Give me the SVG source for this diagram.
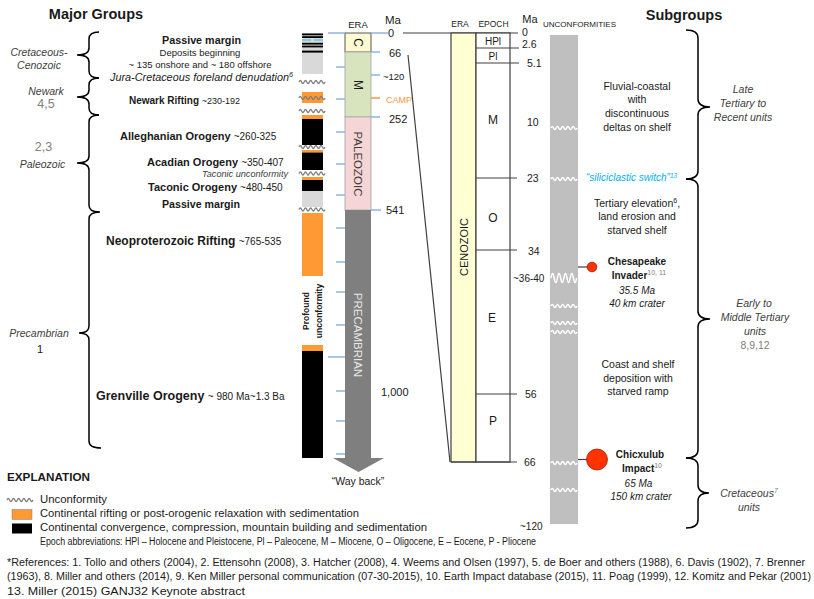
<svg xmlns="http://www.w3.org/2000/svg" width="814" height="599" viewBox="0 0 814 599">
<style>
text{font-family:"Liberation Sans",Arial,sans-serif;fill:#1a1a1a}
.b{font-weight:bold}
.i{font-style:italic}
.gy{fill:#808080}
.dk{fill:#404040}
.brace{fill:none;stroke:#000;stroke-width:1.5}
.tick{stroke:#8eb4e3;stroke-width:1.5}
.ln{stroke:#404040;stroke-width:1.2;fill:none}
.wg{fill:none;stroke:#7f7f7f;stroke-width:1.3}
.ww{fill:none;stroke:#fff;stroke-width:1.5}
.or{fill:#ff9933}
.bk{fill:#000}
.lg{fill:#d9d9d9}
.mid{text-anchor:middle}
.sup{font-size:7px}
</style>
<defs>
<path id="w" d="M0,0 q1.3,-3 2.6,0 t2.6,0 t2.6,0 t2.6,0 t2.6,0 t2.6,0 t2.6,0 t2.6,0 t2.6,0 t2.6,0"/>
<path id="wb" d="M0,0 q1.6,-9 3.2,0 t3.2,0 t3.2,0 t3.2,0 t3.2,0 t3.2,0 t3.2,0 t3.2,0"/>
</defs>
<rect width="814" height="599" fill="#fff"/>

<g id="titles">
<text x="96" y="19" class="b mid" font-size="14.5">Major Groups</text>
<text x="684" y="20" class="b mid" font-size="14.5">Subgroups</text>
</g>

<g id="left-braces">
<path class="brace" d="M99,32 Q89,32 89,39 L89,48 Q89,55 77,55 Q89,55 89,62 L89,71 Q89,78 99,78"/>
<path class="brace" d="M99,78 Q89,78 89,85 L89,90 Q89,97 77,97 Q89,97 89,104 L89,108 Q89,115 99,115"/>
<path class="brace" d="M99,115 Q89,115 89,122 L89,156 Q89,163 77,163 Q89,163 89,170 L89,205 Q89,212 99,212"/>
<path class="brace" d="M100,212 Q89,212 89,219 L89,326 Q89,333 79,333 Q89,333 89,340 L89,441 Q89,448 101,448"/>
</g>

<g id="group-labels" font-size="10.5">
<text x="39" y="55.5" class="i dk mid">Cretaceous-</text>
<text x="39" y="69" class="i dk mid">Cenozoic</text>
<text x="46" y="95" class="i dk mid">Newark</text>
<text x="46" y="108" class="gy mid" font-size="12.5">4,5</text>
<text x="43.5" y="151" class="gy mid" font-size="12.5">2,3</text>
<text x="42.5" y="168" class="i dk mid">Paleozoic</text>
<text x="39" y="337" class="i dk mid">Precambrian</text>
<text x="40" y="353" class="mid" font-size="11">1</text>
</g>

<g id="event-labels">
<text x="162" y="44" class="b" font-size="11" textLength="79" lengthAdjust="spacingAndGlyphs">Passive margin</text>
<text x="200" y="56" class="mid" font-size="9.5">Deposits beginning</text>
<text x="200" y="68" class="mid" font-size="9.5">~ 135 onshore and ~ 180 offshore</text>
<text x="110" y="81" class="i" font-size="10.5" textLength="183" lengthAdjust="spacingAndGlyphs">Jura-Cretaceous foreland denudation<tspan dy="-4" class="sup">6</tspan></text>
<text x="129" y="104"><tspan class="b" font-size="10">Newark Rifting </tspan><tspan font-size="9">~230-192</tspan></text>
<text x="120" y="140"><tspan class="b" font-size="11">Alleghanian Orogeny </tspan><tspan font-size="10">~260-325</tspan></text>
<text x="147" y="166"><tspan class="b" font-size="11">Acadian Orogeny </tspan><tspan font-size="10">~350-407</tspan></text>
<text x="202" y="177" class="i dk" font-size="9" textLength="86" lengthAdjust="spacingAndGlyphs">Taconic unconformity</text>
<text x="148" y="191"><tspan class="b" font-size="11">Taconic Orogeny </tspan><tspan font-size="10">~480-450</tspan></text>
<text x="162" y="208" class="b" font-size="11" textLength="78" lengthAdjust="spacingAndGlyphs">Passive margin</text>
<text x="106" y="245"><tspan class="b" font-size="12">Neoproterozoic Rifting </tspan><tspan font-size="10">~765-535</tspan></text>
<text x="96" y="400"><tspan class="b" font-size="12.5">Grenville Orogeny </tspan><tspan font-size="10"> ~ 980 Ma~1.3 Ba</tspan></text>
</g>

<g id="left-strip">
<rect x="302" y="33" width="21" height="41" class="lg"/>
<rect x="302" y="33.5" width="21" height="1.8" class="bk"/>
<rect x="302" y="36.2" width="21" height="1.8" class="bk"/>
<line x1="302" y1="40" x2="311" y2="40" stroke="#4fc1e9" stroke-width="1.2"/>
<line x1="314" y1="40" x2="323" y2="40" stroke="#4fc1e9" stroke-width="1.2"/>
<rect x="302" y="42.8" width="21" height="1.8" class="bk"/>
<rect x="302" y="45.6" width="21" height="1.8" class="bk"/>
<rect x="302" y="50.6" width="21" height="2" class="bk"/>
<use href="#w" x="299" y="82" class="wg"/>
<rect x="302" y="92" width="21" height="11" class="or"/>
<use href="#w" x="299" y="98" class="wg"/>
<use href="#w" x="299" y="111" class="wg"/>
<rect x="302" y="115" width="21" height="4" class="or"/>
<rect x="302" y="119" width="21" height="26" class="bk"/>
<use href="#w" x="299" y="147" class="wg"/>
<rect x="302" y="150" width="21" height="2.5" class="or"/>
<rect x="302" y="152.5" width="21" height="17.5" class="bk"/>
<use href="#w" x="299" y="173.5" class="wg"/>
<rect x="302" y="177" width="21" height="3" class="or"/>
<rect x="302" y="180" width="21" height="11" class="bk"/>
<rect x="302" y="191" width="21" height="16" class="lg"/>
<use href="#w" x="299" y="209.5" class="wg"/>
<rect x="302" y="213" width="21" height="63" class="or"/>
<g transform="translate(309,311) rotate(-90)" class="b" font-size="8.5">
<text x="0" y="0" class="mid b">Profound</text>
<text x="0" y="12.5" class="mid b">unconformity</text>
</g>
<rect x="302" y="345" width="21" height="6" class="or"/>
<rect x="302" y="351" width="21" height="107" class="bk"/>
</g>

<g id="time-column">
<text x="358" y="28" class="mid" font-size="9.5">ERA</text>
<text x="393" y="24" class="mid" font-size="11.5">Ma</text>
<rect x="345" y="33" width="26" height="19" fill="#fdf9d3" stroke="#595959"/>
<rect x="345" y="52" width="26" height="65" fill="#d7e4bd" stroke="#b0b0b0"/>
<rect x="345" y="117" width="26" height="93" fill="#f5d5d5" stroke="#b0b0b0"/>
<polygon points="345,210 371,210 371,458 384,458 358.5,472 333,458 345,458" fill="#7f7f7f"/>
<text transform="translate(358,42.5) rotate(90)" class="mid" dominant-baseline="central" font-size="12">C</text>
<text transform="translate(358,85) rotate(90)" class="mid" dominant-baseline="central" font-size="12">M</text>
<text transform="translate(358,164) rotate(90)" class="mid dk" dominant-baseline="central" font-size="11.5">PALEOZOIC</text>
<text transform="translate(358,335) rotate(90)" class="mid" dominant-baseline="central" font-size="11.5" style="fill:#e6e6e6">PRECAMBRIAN</text>
<g class="tick">
<line x1="328" y1="33" x2="345" y2="33"/>
<line x1="336" y1="67" x2="345" y2="67"/>
<line x1="336" y1="99" x2="345" y2="99"/>
<line x1="336" y1="132" x2="345" y2="132"/>
<line x1="336" y1="164" x2="345" y2="164"/>
<line x1="336" y1="195" x2="345" y2="195"/>
<line x1="336" y1="228" x2="345" y2="228"/>
<line x1="336" y1="262" x2="345" y2="262"/>
<line x1="336" y1="292" x2="345" y2="292"/>
<line x1="336" y1="325" x2="345" y2="325"/>
<line x1="328" y1="357" x2="345" y2="357"/>
<line x1="336" y1="391" x2="345" y2="391"/>
<line x1="336" y1="421" x2="345" y2="421"/>
<line x1="336" y1="454" x2="345" y2="454"/>
<line x1="371" y1="33" x2="388" y2="33"/>
<line x1="371" y1="52" x2="380" y2="52"/>
<line x1="371" y1="75" x2="380" y2="75"/>
<line x1="371" y1="117" x2="380" y2="117"/>
<line x1="371" y1="210" x2="381" y2="210"/>
</g>
<line x1="371" y1="98" x2="380" y2="98" stroke="#f79646" stroke-width="1.5"/>
<text x="388" y="37" font-size="11">0</text>
<text x="389" y="56.5" font-size="11">66</text>
<text x="383" y="80" font-size="9.5">~120</text>
<text x="386" y="102.5" font-size="9" style="fill:#f79646">CAMP</text>
<text x="389" y="123" font-size="11">252</text>
<text x="386" y="214" font-size="11">541</text>
<text x="381" y="396" font-size="11">1,000</text>
<text x="358" y="485" class="mid" font-size="10.5">“Way back”</text>
</g>

<g id="connectors">
<line x1="403" y1="33" x2="518" y2="33" class="ln"/>
<line x1="408" y1="55" x2="450" y2="462" class="ln"/>
<line x1="578" y1="267" x2="588" y2="267" class="ln"/>
<line x1="578" y1="459.5" x2="587" y2="459.5" class="ln"/>
</g>

<g id="cenozoic-column">
<text x="460" y="27" class="mid" font-size="8.5">ERA</text>
<text x="493.5" y="27" class="mid" font-size="8.5">EPOCH</text>
<text x="530" y="23" class="mid" font-size="11">Ma</text>
<text x="543" y="27" font-size="7" textLength="73" lengthAdjust="spacingAndGlyphs">UNCONFORMITIES</text>
<rect x="451" y="33" width="25" height="429" fill="#ffffd3" stroke="#404040" stroke-width="1.2"/>
<rect x="476" y="33" width="34" height="429" fill="#fff" stroke="#404040" stroke-width="1.2"/>
<text transform="translate(463.5,247) rotate(-90)" class="mid" dominant-baseline="central" font-size="11">CENOZOIC</text>
<g class="ln">
<line x1="476" y1="48" x2="519" y2="48"/>
<line x1="476" y1="63" x2="519" y2="63"/>
<line x1="476" y1="178" x2="517" y2="178"/>
<line x1="476" y1="250" x2="517" y2="250"/>
<line x1="476" y1="394" x2="517" y2="394"/>
<line x1="451" y1="462" x2="517" y2="462"/>
</g>
<text x="493" y="45" class="mid" font-size="10">HPl</text>
<text x="493" y="60" class="mid" font-size="10">Pl</text>
<text x="493" y="124" class="mid" font-size="12">M</text>
<text x="493" y="222" class="mid" font-size="12">O</text>
<text x="492" y="322" class="mid" font-size="12">E</text>
<text x="493" y="425" class="mid" font-size="12">P</text>
<g font-size="10.5">
<text x="522" y="36">0</text>
<text x="522" y="48">2.6</text>
<text x="527" y="67">5.1</text>
<text x="527" y="126">10</text>
<text x="527" y="182">23</text>
<text x="528" y="255">34</text>
<text x="513" y="282" font-size="10">~36-40</text>
<text x="525" y="398">56</text>
<text x="524" y="466">66</text>
<text x="520" y="530" font-size="10">~120</text>
</g>
</g>

<g id="unconformities">
<rect x="550" y="35" width="28" height="489" fill="#bfbfbf"/>
<use href="#w" x="551" y="128" class="ww"/>
<use href="#w" x="551" y="179" class="ww"/>
<use href="#wb" x="551" y="278" class="ww"/>
<use href="#w" x="551" y="306" class="ww"/>
<use href="#w" x="551" y="323" class="ww"/>
<use href="#w" x="551" y="332" class="ww"/>
<use href="#w" x="551" y="463" class="ww"/>
<use href="#w" x="551" y="490" class="ww"/>
</g>

<g id="impacts">
<circle cx="592" cy="267" r="4.8" fill="#ff3300" stroke="#9c1a00" stroke-width="0.8"/>
<circle cx="597" cy="459.5" r="10.5" fill="#ff3300" stroke="#9c1a00" stroke-width="0.8"/>
</g>

<g id="subgroup-text" font-size="10.5">
<text x="637" y="89.5" class="mid">Fluvial-coastal</text>
<text x="637" y="103" class="mid">with</text>
<text x="637" y="117" class="mid">discontinuous</text>
<text x="637" y="131" class="mid">deltas on shelf</text>
<text x="586" y="181" class="i" font-size="10" style="fill:#00b0f0">“siliciclastic  switch”<tspan dy="-3.5" font-size="6.5">13</tspan></text>
<text x="637" y="207" class="mid">Tertiary elevation<tspan dy="-4" class="sup">6</tspan><tspan dy="4">,</tspan></text>
<text x="637" y="220" class="mid">land erosion and</text>
<text x="637" y="234" class="mid">starved shelf</text>
<text x="637" y="265" class="mid b" font-size="10">Chesapeake</text>
<text x="639" y="279" class="mid" font-size="10"><tspan class="b">Invader</tspan><tspan dy="-4" class="sup gy">10, 11</tspan></text>
<text x="637" y="294" class="mid i" font-size="10">35.5 Ma</text>
<text x="637" y="307" class="mid i" font-size="10">40 km crater</text>
<text x="638" y="368" class="mid">Coast and shelf</text>
<text x="638" y="381.5" class="mid">deposition with</text>
<text x="638" y="395" class="mid">starved ramp</text>
<text x="640" y="458" class="mid b" font-size="10">Chicxulub</text>
<text x="642" y="472" class="mid" font-size="10"><tspan class="b">Impact</tspan><tspan dy="-4" class="sup gy">10</tspan></text>
<text x="638.5" y="487" class="mid i" font-size="10">65 Ma</text>
<text x="641" y="500" class="mid i" font-size="10">150 km crater</text>
</g>

<g id="right-braces">
<path class="brace" d="M686,30 Q698,30 698,38 L698,99 Q698,107 710,107 Q698,107 698,115 L698,171 Q698,179 686,179"/>
<path class="brace" d="M686,179 Q698,179 698,187 L698,311 Q698,319 710,319 Q698,319 698,327 L698,450 Q698,458 686,458"/>
<path class="brace" d="M686,458 Q698,458 698,466 L698,485 Q698,493 709,493 Q698,493 698,501 L698,520 Q698,528 686,528"/>
</g>

<g id="subgroup-labels" font-size="10.5">
<text x="743" y="93" class="mid i dk">Late</text>
<text x="743" y="107" class="mid i dk">Tertiary to</text>
<text x="743" y="121" class="mid i dk">Recent units</text>
<text x="754" y="307" class="mid i dk">Early to</text>
<text x="755" y="321" class="mid i dk">Middle Tertiary</text>
<text x="755" y="335" class="mid i dk">units</text>
<text x="755" y="349" class="mid gy">8,9,12</text>
<text x="749" y="497" class="mid i dk">Cretaceous<tspan dy="-4" class="sup gy">7</tspan></text>
<text x="749" y="511" class="mid i dk">units</text>
</g>

<g id="explanation">
<text x="7" y="481" class="b" font-size="11.5" textLength="83" lengthAdjust="spacingAndGlyphs">EXPLANATION</text>
<use href="#w" x="7" y="500" class="wg"/>
<text x="40" y="503" font-size="10.5" textLength="67" lengthAdjust="spacingAndGlyphs">Unconformity</text>
<rect x="12" y="509.5" width="20" height="10" fill="#ff9933" stroke="#7f7f7f" stroke-width="0.5"/>
<text x="40" y="517" font-size="10.5" textLength="319" lengthAdjust="spacingAndGlyphs">Continental rifting or post-orogenic relaxation with sedimentation</text>
<rect x="12" y="523.5" width="20" height="10" fill="#000"/>
<text x="40" y="531" font-size="10.5" textLength="387" lengthAdjust="spacingAndGlyphs">Continental convergence, compression,  mountain building and sedimentation</text>
<text x="40" y="545" font-size="10" textLength="496" lengthAdjust="spacingAndGlyphs">Epoch abbreviations:  HPl – Holocene and Pleistocene, Pl – Paleocene, M – Miocene, O – Oligocene, E – Eocene, P - Pliocene</text>
</g>

<g id="references" font-size="10">
<text x="7" y="565.5" textLength="798" lengthAdjust="spacingAndGlyphs">*References: 1. Tollo and others (2004), 2. Ettensohn (2008), 3. Hatcher (2008), 4. Weems and Olsen (1997),  5. de Boer and others (1988), 6. Davis (1902), 7. Brenner</text>
<text x="7" y="580" textLength="804" lengthAdjust="spacingAndGlyphs">(1963), 8. Miller and others (2014), 9. Ken Miller personal communication (07-30-2015), 10. Earth Impact database (2015), 11. Poag (1999), 12. Komitz and Pekar (2001)</text>
<text x="7" y="594.5" font-size="10.5" textLength="238" lengthAdjust="spacingAndGlyphs">13. Miller (2015) GANJ32 Keynote abstract</text>
</g>
</svg>
